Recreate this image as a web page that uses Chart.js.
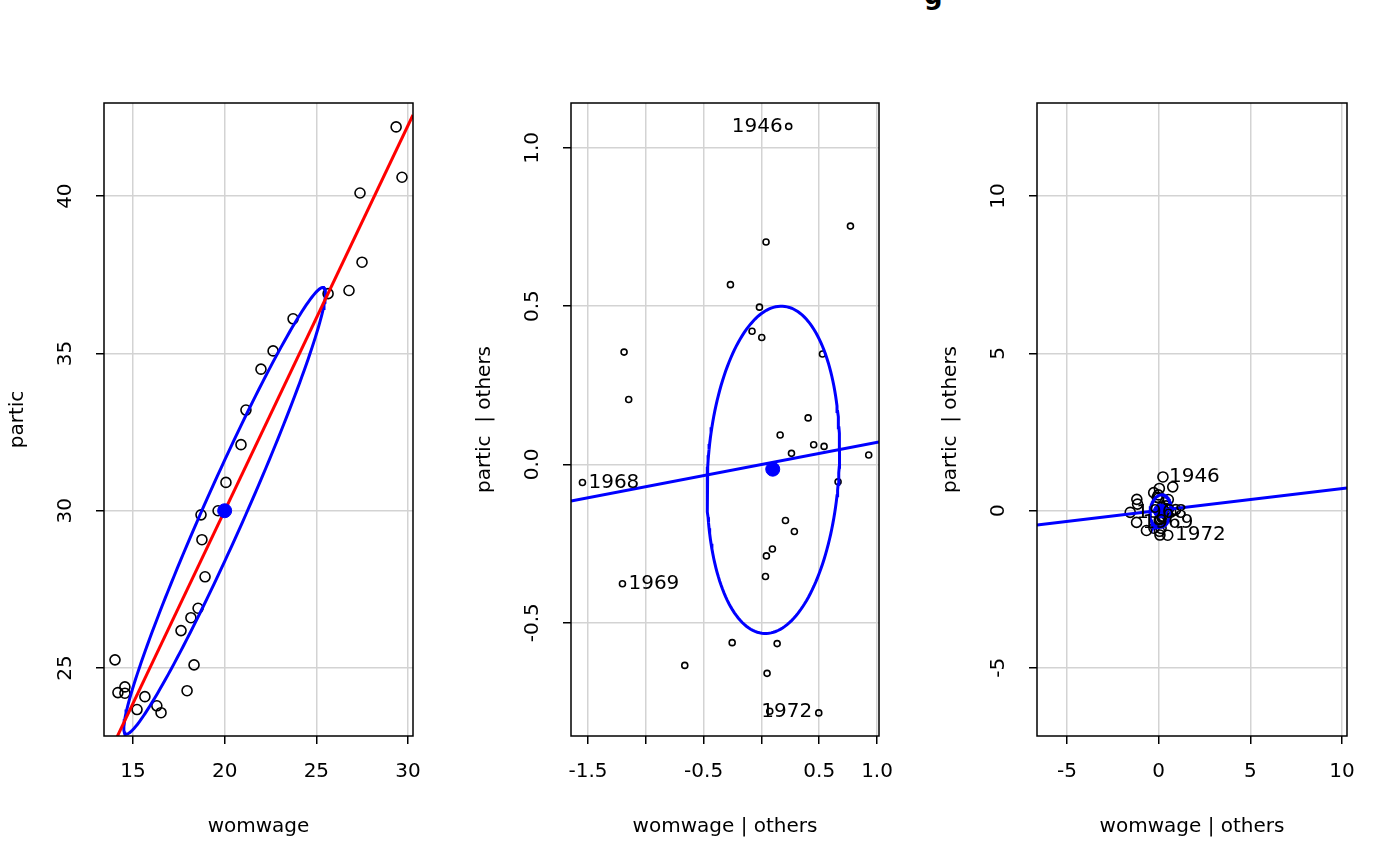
<!DOCTYPE html>
<html><head><meta charset="utf-8">
<script src="https://cdn.jsdelivr.net/npm/chart.js@4/dist/chart.umd.min.js"></script>
<style>
body{margin:0;background:#fff;width:1400px;height:866px;overflow:hidden;position:relative;font-family:"DejaVu Sans"}
canvas{position:absolute;left:0;top:0}
#tt{position:absolute;left:924px;top:-20px;font:bold 26px "DejaVu Sans"}
</style></head><body>
<div id="tt">g</div>
<canvas id="c1" width="1400" height="866"></canvas>
<canvas id="c2" width="1400" height="866"></canvas>
<canvas id="c3" width="1400" height="866"></canvas>
<script>
// Panel 1: marginal
const womwage = [29.35,29.67,27.38,27.49,26.78,25.64,23.73,22.64,21.98,21.16,20.89,20.07,18.71,19.64,18.76,18.93,18.55,18.16,17.62,18.33,17.95,14.02,14.18,14.56,14.56,15.65,15.22,16.3,16.53];
const partic  = [42.2,40.6,40.1,37.9,37.0,36.9,36.1,35.08,34.5,33.2,32.1,30.9,29.87,30.0,29.08,27.9,26.9,26.6,26.19,25.1,24.28,25.26,24.22,24.4,24.2,24.09,23.68,23.8,23.58];
const mean1 = [20.0, 30.0];
const fit1 = {slope:1.225, intercept:5.5};
const ell1 = {cx:20.0, cy:30.0, sx:5.5, sy:7.1, r:0.974};
// Panel 2/3: added variable (conditional)
const avX = [0.236,0.770,0.040,-0.268,-0.017,-0.081,0.003,-1.188,0.528,-1.148,0.404,0.162,0.452,0.542,0.260,0.928,-1.548,0.663,0.208,0.285,0.095,0.043,0.035,-1.202,-0.253,0.136,-0.663,0.049,0.072,0.496];
const avY = [1.068,0.753,0.703,0.568,0.497,0.421,0.401,0.355,0.349,0.205,0.147,0.093,0.062,0.057,0.035,0.030,-0.057,-0.055,-0.177,-0.212,-0.267,-0.289,-0.354,-0.377,-0.563,-0.566,-0.635,-0.660,-0.780,-0.785];
const avLabels = {0:"1946",16:"1968",23:"1969",28:"1972"};
const mean2 = [0.098,-0.015];
const fit2 = {slope:0.070, intercept:0.0};
const ell2 = {cx:0.103, cy:-0.017, sx:0.573, sy:0.517, r:0.12};
// ticks
const xt1=[15,20,25,30], yt1=[25,30,35,40];
const xt2=[-1.5,-1.0,-0.5,0.0,0.5,1.0], xt2lab=["-1.5","","-0.5","","0.5","1.0"], yt2=[-0.5,0.0,0.5,1.0], yt2lab=["-0.5","0.0","0.5","1.0"];
const xt3=[-5,0,5,10], yt3=[-5,0,5,10];

function ellipse(e){const p=[];const q=Math.sqrt(1-e.r*e.r);for(let i=0;i<=180;i++){const t=i/180*2*Math.PI;p.push({x:e.cx+e.sx*Math.cos(t),y:e.cy+e.sy*(e.r*Math.cos(t)+q*Math.sin(t))});}return p;}
const F='"DejaVu Sans"';
function make(id,cfg){
  const {L,R,xs,ys,xt,xlab,yt,ylab,xtitle,ytitle,px,py,pr,mean,fit,ell,fitColor,labels,labelPos}=cfg;
  const pts=px.map((v,i)=>({x:v,y:py[i]}));
  const fitData=[{x:xs[0],y:fit.intercept+fit.slope*xs[0]},{x:xs[1],y:fit.intercept+fit.slope*xs[1]}];
  const plug={id:'p'+id,afterDraw(ch){const c=ch.ctx,a=ch.chartArea,sx=ch.scales.x,sy=ch.scales.y;
    c.save();c.fillStyle='#000';c.font='20px '+F;c.textAlign='center';c.textBaseline='middle';
    yt.forEach((v,i)=>{const y=sy.getPixelForValue(v);c.save();c.translate(a.left-38,y);c.rotate(-Math.PI/2);c.fillText(ylab?ylab[i]:String(v),0,0);c.restore();});
    c.save();c.translate(L-86,(a.top+a.bottom)/2);c.rotate(-Math.PI/2);c.fillText(ytitle,0,0);c.restore();
    if(labels){c.font='20px '+F;Object.keys(labels).forEach(k=>{const x=sx.getPixelForValue(px[k]),y=sy.getPixelForValue(py[k]);const pos=labelPos[k];
      if(pos==='l'){c.textAlign='right';c.fillText(labels[k],x-6,y);}else if(pos==='c'){c.textAlign='center';c.fillText(labels[k],x+17,y);}else{c.textAlign='left';c.fillText(labels[k],x+(pos==='rr'?15:6),y);}});}
    c.strokeStyle='#000';c.lineWidth=1.5;c.strokeRect(a.left,a.top,a.right-a.left,a.bottom-a.top);c.restore();}};
  const ds=[{data:pts,showLine:false,pointRadius:pr,pointBorderColor:'#000',pointBackgroundColor:'rgba(0,0,0,0)',pointBorderWidth:1.6,order:3}];
  ds.push({data:fitData,showLine:true,borderColor:fitColor,borderWidth:3,pointRadius:0,order:1});
  ds.push({data:ellipse(ell),showLine:true,borderColor:'#0000ff',borderWidth:3,pointRadius:0,order:2});
  ds.push({data:[{x:mean[0],y:mean[1]}],showLine:false,pointRadius:7,pointBackgroundColor:'#0000ff',pointBorderColor:'#0000ff',order:0});
  new Chart(document.getElementById(id),{type:'scatter',data:{datasets:ds},plugins:[plug],options:{responsive:false,animation:false,events:[],
    layout:{padding:{left:L-90,right:1400-R,top:103,bottom:27}},
    plugins:{legend:{display:false},tooltip:{enabled:false}},
    scales:{x:{type:'linear',min:xs[0],max:xs[1],afterBuildTicks:s=>{s.ticks=xt.map(v=>({value:v}));},afterFit:s=>{s.height=103;},
      ticks:{font:{family:F,size:20},color:'#000',padding:16,maxRotation:0,autoSkip:false,callback:(v,i)=>xlab?xlab[i]:String(v)},
      grid:{color:'#d3d3d3',lineWidth:1.5,tickColor:'#000',tickLength:8},border:{display:false},
      title:{display:true,text:xtitle,font:{family:F,size:20},color:'#000',padding:{top:18,bottom:0}}},
     y:{type:'linear',min:ys[0],max:ys[1],afterBuildTicks:s=>{s.ticks=yt.map(v=>({value:v}));},afterFit:s=>{s.width=90;},
      ticks:{color:'rgba(0,0,0,0)',font:{family:F,size:16}},
      grid:{color:'#d3d3d3',lineWidth:1.5,tickColor:'#000',tickLength:8},border:{display:false}}}}});
}
make('c1',{L:104,R:413,xs:[13.42,30.27],ys:[22.84,42.96],xt:xt1,yt:yt1,xtitle:'womwage',ytitle:'partic',px:womwage,py:partic,pr:5,mean:mean1,fit:fit1,ell:ell1,fitColor:'#ff0000'});
make('c2',{L:571,R:879,xs:[-1.647,1.017],ys:[-0.858,1.142],xt:xt2,xlab:xt2lab,yt:yt2,ylab:yt2lab,xtitle:'womwage | others',ytitle:'partic  | others',px:avX,py:avY,pr:3,mean:mean2,fit:fit2,ell:ell2,fitColor:'#0000ff',labels:avLabels,labelPos:{0:'l',16:'r',23:'r',28:'c'}});
make('c3',{L:1037,R:1347,xs:[-6.63,10.27],ys:[-7.17,12.96],xt:xt3,yt:yt3,xtitle:'womwage | others',ytitle:'partic  | others',px:avX,py:avY,pr:5,mean:mean2,fit:fit2,ell:ell2,fitColor:'#0000ff',labels:avLabels,labelPos:{0:'r',16:'r',23:'r',28:'rr'}});
</script></body></html>
